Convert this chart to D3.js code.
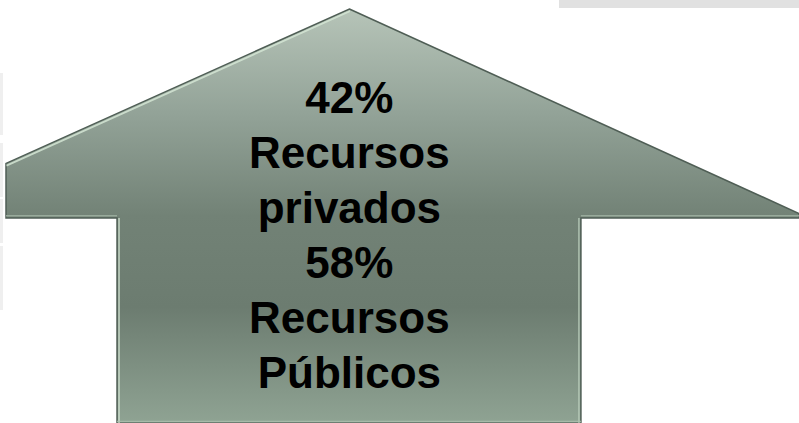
<!DOCTYPE html>
<html>
<head>
<meta charset="utf-8">
<script src="https://cdn.jsdelivr.net/npm/d3@7"></script>
<style>
  body { margin: 0; background: #fff; }
  svg { display: block; }
</style>
</head>
<body>
<div id="chart"></div>
<script>
// shares of funding
var shares = [42, 58];
var labels = [["Recursos", "privados"], ["Recursos", "Públicos"]];

// text lines in reading order
var lines = [];
shares.forEach(function(s, i) {
  lines.push(s + "%");
  labels[i].forEach(function(l) { lines.push(l); });
});

var width = 799, height = 423;

var svg = d3.select("#chart")
    .append("svg")
    .attr("width", width)
    .attr("height", height);

// faint boxes left over at the page edges
svg.append("rect").attr("x", 559).attr("y", 0).attr("width", 240).attr("height", 8).attr("fill", "#e1e1e1");
[[73, 135], [143, 197], [199, 243], [246, 310]].forEach(function(b) {
  svg.append("rect").attr("x", 0).attr("y", b[0]).attr("width", 3).attr("height", b[1] - b[0]).attr("fill", "#efefef");
});

// arrow geometry in unit space, mapped through scales
var x = d3.scaleLinear().domain([0, 1]).range([6, 799]);
var y = d3.scaleLinear().domain([0, 1]).range([9, 423]);

var apex = [0.433, 0], tipL = [0, 0.373], tipR = [1, 0.494],
    wingY = 0.505, shaftL = 0.140, shaftR = 0.725, bottom = 1.0;

var pts = [
  apex, tipR, [1, wingY], [shaftR, wingY], [shaftR, bottom],
  [shaftL, bottom], [shaftL, wingY], [0, wingY], tipL
];

var defs = svg.append("defs");
var grad = defs.append("linearGradient")
    .attr("id", "fillGrad")
    .attr("gradientUnits", "userSpaceOnUse")
    .attr("x1", 0).attr("y1", y(0)).attr("x2", 0).attr("y2", y(1));
[[0, "#b6c4b8"], [0.25, "#93a398"], [0.5, "#728276"], [0.72, "#6c7c70"], [1, "#8fa393"]]
  .forEach(function(s) {
    grad.append("stop").attr("offset", s[0]).attr("stop-color", s[1]);
  });

var line = d3.line().x(function(d) { return x(d[0]); }).y(function(d) { return y(d[1]); });

svg.append("path")
    .attr("d", line(pts) + "Z")
    .attr("fill", "url(#fillGrad)")
    .attr("stroke", "#4f5e55")
    .attr("stroke-width", 1.5)
    .attr("stroke-linejoin", "miter");

// bevel highlights
var hi = "#d3e5d4";
function seg(a, b, dx, dy, col, w) {
  svg.append("line")
      .attr("x1", x(a[0]) + dx).attr("y1", y(a[1]) + dy)
      .attr("x2", x(b[0]) + dx).attr("y2", y(b[1]) + dy)
      .attr("stroke", col).attr("stroke-width", w).attr("stroke-opacity", 0.85);
}
seg(tipL, apex, 0.5, 2.2, hi, 1.8);
seg([0, wingY], [shaftL, wingY], 0, -2.2, "#9fb2a2", 1.5);
seg([shaftR, wingY], [1, wingY], 0, -2.2, "#9fb2a2", 1.5);
seg([shaftL, wingY], [shaftL, bottom], 2, 0, hi, 1.5);
seg([shaftR, wingY], [shaftR, bottom], -2, 0, "#b9cdbb", 1.5);
seg([shaftL, bottom], [shaftR, bottom], 0, -1.5, "#aac0ad", 1.5);

// label text
svg.append("g")
  .selectAll("text")
  .data(lines)
  .enter()
  .append("text")
    .attr("x", x(apex[0]))
    .attr("y", function(d, i) { return 113 + i * 55; })
    .attr("text-anchor", "middle")
    .style("font-family", "'Liberation Sans', Arial, sans-serif")
    .style("font-weight", "bold")
    .style("font-size", "44px")
    .attr("fill", "#000")
    .text(function(d) { return d; });
</script>
</body>
</html>
